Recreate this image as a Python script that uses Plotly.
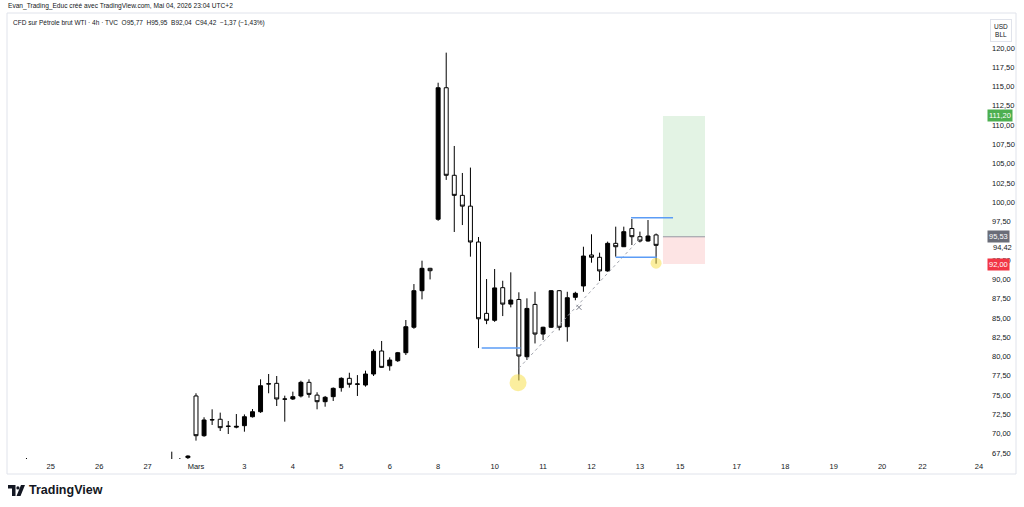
import plotly.graph_objects as go

# 4h bars, x = bar index (0 = first bar of "Mars")
bar_idx = [-21, -6, -5, -4, -3, -2, -1,
           0, 1, 2, 3, 4, 5, 6, 7, 8, 9, 10, 11, 12, 13, 14, 15, 16, 17, 18, 19,
           20, 21, 22, 23, 24, 25, 26, 27, 28, 29, 30, 31, 32, 33, 34, 35, 36, 37,
           38, 39, 40, 41, 42, 43, 44, 45, 46, 47, 48, 49, 50, 51, 52, 53, 54, 55,
           56, 57]
opens = [66.5, 65.8, 66.1, 66.4, 66.3, 66.5, 66.9,
         74.89, 69.74, 71.78, 71.87, 70.99, 70.85, 71.04, 72.2, 72.85, 76.44, 76.53, 74.5,
         74.5, 74.89, 76.66, 75.0, 74.15, 74.8, 75.97, 77.18,
         76.4, 76.31, 77.74, 80.72, 78.8, 79.46, 80.5, 83.8, 88.54, 91.44,
         97.8, 114.85, 103.5, 100.9, 99.5, 94.85, 85.6, 84.7,
         88.93, 86.8, 87.4, 79.98, 86.76, 82.92, 83.8, 88.54, 83.87, 87.68,
         89.15, 93.17, 92.87, 91.1, 94.68, 94.24, 96.6, 95.54, 94.98, 95.77]
highs = [66.85, 66.3, 66.6, 66.7, 67.67, 66.85, 67.2,
         75.24, 72.13, 73.16, 72.73, 71.65, 72.55, 72.5, 73.2, 77.05, 77.74, 77.48, 74.93,
         75.45, 76.87, 77.05, 75.37, 74.89, 76.0, 77.31, 77.9,
         77.6, 78.17, 80.94, 82.02, 79.9, 80.6, 84.74, 89.4, 92.43, 91.5,
         115.5, 119.4, 107.3, 103.8, 104.5, 95.5, 90.05, 91.35,
         89.83, 90.92, 88.33, 87.55, 88.4, 83.87, 88.6, 88.63, 88.4, 88.4,
         94.24, 95.85, 93.47, 94.9, 96.84, 96.84, 97.83, 96.2, 97.7, 95.95]
lows = [66.2, 65.5, 65.9, 66.0, 66.1, 66.3, 66.5,
        69.1, 69.6, 71.13, 70.35, 69.96, 70.7, 70.26, 72.1, 72.7, 75.24, 73.59, 71.56,
        74.37, 74.7, 74.67, 73.16, 73.5, 74.24, 75.45, 75.97,
        74.89, 76.1, 77.48, 78.55, 78.17, 79.3, 80.2, 83.6, 87.42, 90.0,
        97.6, 102.9, 96.15, 97.05, 92.95, 81.1, 84.2, 84.5,
        85.25, 86.38, 76.9, 79.55, 81.7, 82.15, 83.7, 83.4, 81.93, 87.3,
        88.4, 92.17, 89.8, 91.0, 92.95, 94.2, 94.46, 94.8, 94.9, 92.04]
closes = [66.6, 66.1, 66.4, 66.3, 66.6, 66.6, 67.1,
          69.74, 71.78, 71.82, 70.78, 70.95, 70.95, 72.2, 72.85, 76.22, 76.47, 74.5, 74.48,
          74.8, 76.66, 75.1, 74.15, 74.72, 75.88, 77.18, 76.4,
          76.45, 77.74, 80.68, 78.6, 79.55, 80.5, 83.87, 88.54, 91.44, 91.13,
          114.85, 103.5, 100.9, 99.5, 94.85, 84.9, 84.7, 88.9,
          86.8, 87.33, 80.07, 86.24, 82.92, 83.8, 88.54, 83.8, 87.63, 88.2,
          93.03, 92.87, 91.1, 94.68, 94.24, 96.19, 95.54, 94.98, 95.63, 94.42]

# day labels on the time scale
day_ticks = [-18, -12, -6, 0, 6, 12, 18, 24, 30, 37, 43, 49, 55, 60, 67, 73, 79, 85, 90, 97]
day_labels = ["25", "26", "27", "Mars", "3", "4", "5", "6", "8", "10", "11", "12", "13",
              "15", "17", "18", "19", "20", "22", "24"]

price_ticks = [67.5, 70, 72.5, 75, 77.5, 80, 82.5, 85, 87.5, 90, 92.5,
               97.5, 100, 102.5, 105, 107.5, 110, 112.5, 115, 117.5, 120]
price_labels = [f"{v:.2f}".replace(".", ",") for v in price_ticks]

# drawings
long_x = [57.85, 63.06]
target, entry, stop = 111.20, 95.53, 92.00
last_close = 94.42
trend_x = [40, 55.2]
trend_y = [78.5, 95.5]
cross_x, cross_y = [47.45], [86.38]
levels = [  # (x0, x1, price) horizontal blue lines
    (35.4, 40.2, 81.1),
    (52.0, 57.1, 92.87),
    (53.9, 59.1, 98.0),
]
circle_x = [39.9, 57.0]
circle_y = [76.6, 92.1]
circle_size = [17, 11]

FONT = "Liberation Sans"
TXT = "#131722"

# pixel -> paper helpers (plot area: x 8..985, y 13..459)
L, R, T, B = 8, 985, 13, 459


def px(x):
    return (x - L) / (R - L)


def py(y):
    return (B - y) / (B - T)


fig = go.Figure()

fig.add_trace(go.Candlestick(
    x=bar_idx, open=opens, high=highs, low=lows, close=closes,
    increasing=dict(line=dict(color="#000000", width=1), fillcolor="#000000"),
    decreasing=dict(line=dict(color="#000000", width=1), fillcolor="#ffffff"),
    whiskerwidth=0, hoverinfo="skip", showlegend=False,
))

# long position box
fig.add_shape(type="rect", x0=long_x[0], x1=long_x[1], y0=entry, y1=target,
              fillcolor="#e3f3e4", line_width=0, layer="below")
fig.add_shape(type="rect", x0=long_x[0], x1=long_x[1], y0=stop, y1=entry,
              fillcolor="#fde4e4", line_width=0, layer="below")
fig.add_shape(type="line", x0=long_x[0], x1=long_x[1], y0=entry, y1=entry,
              line=dict(color="#9598a1", width=1))

for x0, x1, lvl in levels:
    fig.add_shape(type="line", x0=x0, x1=x1, y0=lvl, y1=lvl,
                  line=dict(color="#5b9cf6", width=1.5))

fig.add_trace(go.Scatter(x=trend_x, y=trend_y, mode="lines",
                         line=dict(color="#a3a6af", width=1, dash="dot"),
                         hoverinfo="skip", showlegend=False))
fig.add_trace(go.Scatter(x=cross_x, y=cross_y, mode="markers",
                         marker=dict(symbol="x-thin", size=5, line=dict(color="#787b86", width=1)),
                         hoverinfo="skip", showlegend=False))
fig.add_trace(go.Scatter(x=circle_x, y=circle_y, mode="markers",
                         marker=dict(size=circle_size, color="rgba(247,223,70,0.75)", line_width=0),
                         hoverinfo="skip", showlegend=False))

# pane border
fig.add_shape(type="rect", xref="paper", yref="paper", x0=px(7), x1=px(1016), y0=py(474), y1=py(13),
              line=dict(color="#e0e3eb", width=1), layer="below")

# price-scale labels
fig.add_annotation(xref="paper", yref="y", x=px(991), y=last_close, xanchor="left", yanchor="middle",
                   text=f"{last_close:.2f}".replace(".", ","), showarrow=False, yshift=-2,
                   font=dict(family=FONT, size=7.5, color=TXT))
for val, bg in [(target, "#4caf50"), (entry, "#6a6d78"), (stop, "#f23645")]:
    fig.add_annotation(xref="paper", yref="y", x=px(987), y=val, xanchor="left", yanchor="middle",
                       text=f"{val:.2f}".replace(".", ","), showarrow=False, bgcolor=bg,
                       font=dict(family=FONT, size=7.5, color="#ffffff"), borderpad=1)
fig.add_annotation(xref="paper", yref="paper", x=px(1001), y=py(30), xanchor="center", yanchor="middle",
                   text="USD<br>BLL", showarrow=False, bgcolor="#ffffff", bordercolor="#e0e3eb",
                   borderwidth=1, borderpad=3, font=dict(family=FONT, size=6.5, color=TXT))

# header texts
fig.add_annotation(xref="paper", yref="paper", x=px(6), y=py(6), xanchor="left", yanchor="middle",
                   text="Evan_Trading_Educ créé avec TradingView.com, Mai 04, 2026 23:04 UTC+2",
                   showarrow=False, font=dict(family=FONT, size=6.6, color=TXT))
fig.add_annotation(xref="paper", yref="paper", x=px(11), y=py(23), xanchor="left", yanchor="middle",
                   text="CFD sur Pétrole brut WTI · 4h · TVC  O95,77  H95,95  B92,04  C94,42  −1,37 (−1,43%)",
                   showarrow=False, font=dict(family=FONT, size=6.5, color=TXT))

# TradingView logo
logo_t = (f"M{px(8)},{py(485)} L{px(15.5)},{py(485)} L{px(15.5)},{py(496)} L{px(12)},{py(496)} "
          f"L{px(12)},{py(488.5)} L{px(8)},{py(488.5)} Z")
logo_v = f"M{px(21)},{py(485)} L{px(25)},{py(485)} L{px(20.5)},{py(496)} L{px(16.5)},{py(496)} Z"
for p in (logo_t, logo_v):
    fig.add_shape(type="path", xref="paper", yref="paper", path=p, fillcolor=TXT, line_width=0)
fig.add_shape(type="circle", xref="paper", yref="paper", x0=px(16.3), x1=px(19.5), y0=py(489.5), y1=py(486.3),
              fillcolor=TXT, line_width=0)
fig.add_annotation(xref="paper", yref="paper", x=px(27), y=py(490.5), xanchor="left", yanchor="middle",
                   text="<b>TradingView</b>", showarrow=False, font=dict(family=FONT, size=12.5, color=TXT))

fig.update_layout(
    width=1024, height=507, autosize=False,
    margin=dict(l=L, r=1024 - R, t=T, b=507 - B),
    paper_bgcolor="#ffffff", plot_bgcolor="#ffffff",
    showlegend=False, hovermode=False,
    font=dict(family=FONT, size=7.5, color=TXT),
    xaxis=dict(range=[-23.29, 97.75], tickvals=day_ticks, ticktext=day_labels,
               showgrid=False, zeroline=False, showline=False, ticks="",
               ticklabelstandoff=1, rangeslider=dict(visible=False),
               tickfont=dict(family=FONT, size=7.5, color=TXT)),
    yaxis=dict(side="right", range=[66.72, 124.54], tickvals=price_ticks, ticktext=price_labels,
               showgrid=False, zeroline=False, showline=False, ticks="",
               ticklabelstandoff=6, tickfont=dict(family=FONT, size=7.5, color=TXT)),
)

# the page's default body margin would shift the fixed-size figure
fig.write_html("out.html", config={"displayModeBar": False},
               post_script="document.body.style.margin='0';document.body.style.overflow='hidden';")
